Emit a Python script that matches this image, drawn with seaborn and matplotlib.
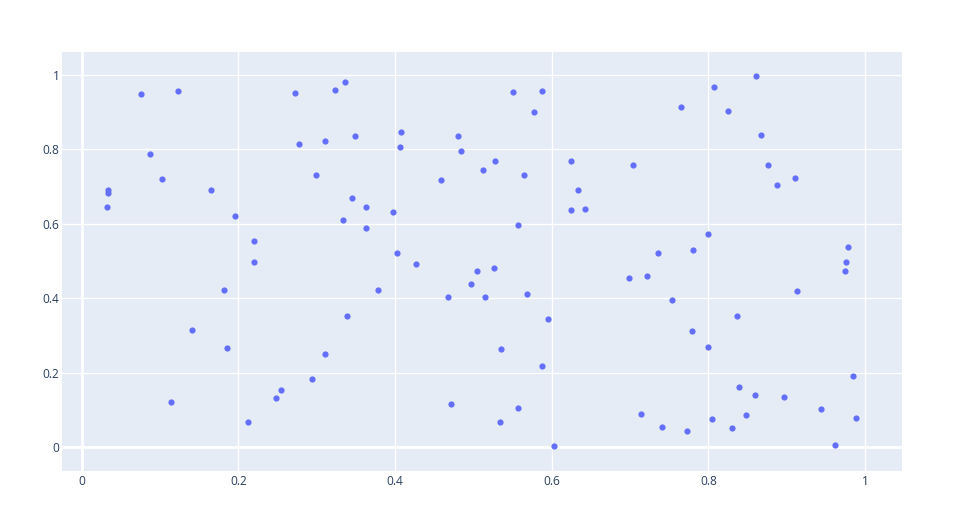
import matplotlib
matplotlib.use("Agg")
import matplotlib.pyplot as plt
import seaborn as sns
import pandas as pd

x_vals = [0.076, 0.123, 0.272, 0.324, 0.336, 0.277, 0.311, 0.087, 0.103, 0.034,
          0.034, 0.033, 0.165, 0.299, 0.196, 0.334, 0.345, 0.2195, 0.220, 0.349,
          0.408, 0.406, 0.551, 0.587, 0.577, 0.481, 0.4845, 0.527, 0.512, 0.565,
          0.459, 0.6245, 0.633, 0.6245, 0.643, 0.5565, 0.363, 0.397, 0.363, 0.402,
          0.427, 0.861, 0.807, 0.765, 0.8245, 0.867, 0.704, 0.876, 0.910, 0.887,
          0.799, 0.736, 0.780, 0.9785, 0.975, 0.182, 0.141, 0.185, 0.339, 0.310,
          0.294, 0.254, 0.248, 0.114, 0.213, 0.505, 0.526, 0.378, 0.497, 0.468,
          0.515, 0.569, 0.698, 0.595, 0.535, 0.587, 0.471, 0.557, 0.534, 0.603,
          0.721, 0.974, 0.913, 0.753, 0.836, 0.779, 0.800, 0.985, 0.839, 0.860,
          0.897, 0.944, 0.848, 0.7135, 0.805, 0.988, 0.830, 0.741, 0.773, 0.962]
y_vals = [0.949, 0.958, 0.953, 0.961, 0.980, 0.814, 0.822, 0.789, 0.721, 0.692,
          0.683, 0.645, 0.691, 0.732, 0.622, 0.610, 0.669, 0.555, 0.498, 0.837,
          0.846, 0.806, 0.954, 0.958, 0.900, 0.836, 0.795, 0.770, 0.744, 0.730,
          0.719, 0.770, 0.690, 0.637, 0.639, 0.598, 0.646, 0.632, 0.588, 0.522,
          0.493, 0.998, 0.967, 0.915, 0.902, 0.840, 0.758, 0.757, 0.723, 0.704,
          0.572, 0.521, 0.529, 0.539, 0.497, 0.421, 0.314, 0.2655, 0.351, 0.250,
          0.184, 0.153, 0.132, 0.120, 0.0665, 0.4735, 0.4826, 0.4216, 0.437, 0.4036,
          0.4046, 0.4117, 0.4547, 0.3436, 0.263, 0.218, 0.115, 0.106, 0.067, 0.002,
          0.459, 0.4727, 0.4207, 0.3956, 0.3535, 0.312, 0.269, 0.192, 0.1615, 0.139,
          0.1345, 0.102, 0.086, 0.0898, 0.0754, 0.0772, 0.051, 0.054, 0.043, 0.0046]
tick_vals = [0, 0.2, 0.4, 0.6, 0.8, 1]
tick_labels = ["0", "0.2", "0.4", "0.6", "0.8", "1"]

df = pd.DataFrame({"x": x_vals, "y": y_vals})

sns.set_theme(style="white")
plt.rcParams["font.family"] = ["Open Sans", "DejaVu Sans"]

fig = plt.figure(figsize=(9.73, 5.23), dpi=100)
ax = fig.add_axes([62 / 973, 52.5 / 523, 840 / 973, 418.9 / 523])
ax.set_facecolor("#E5ECF6")

ax.set_xlim(-0.025, 1.047)
ax.set_ylim(-0.063, 1.063)
ax.set_xticks(tick_vals)
ax.set_xticklabels(tick_labels)
ax.set_yticks(tick_vals)
ax.set_yticklabels(tick_labels)
ax.grid(True, color="white", linewidth=1.0)
ax.set_axisbelow(True)
ax.axhline(0, color="white", linewidth=2.0, zorder=1)
ax.axvline(0, color="white", linewidth=2.0, zorder=1)

sns.scatterplot(data=df, x="x", y="y", ax=ax, color="#636EFA", s=20,
                edgecolor="#636EFA", linewidth=0, zorder=3)

for s in ax.spines.values():
    s.set_visible(False)
ax.tick_params(axis="both", length=0, labelsize=8.6, colors="#2a3f5f")
ax.tick_params(axis="x", pad=3.4)
ax.tick_params(axis="y", pad=1.8)
ax.set_xlabel("")
ax.set_ylabel("")

fig.savefig("out.png", dpi=100, facecolor="white")
